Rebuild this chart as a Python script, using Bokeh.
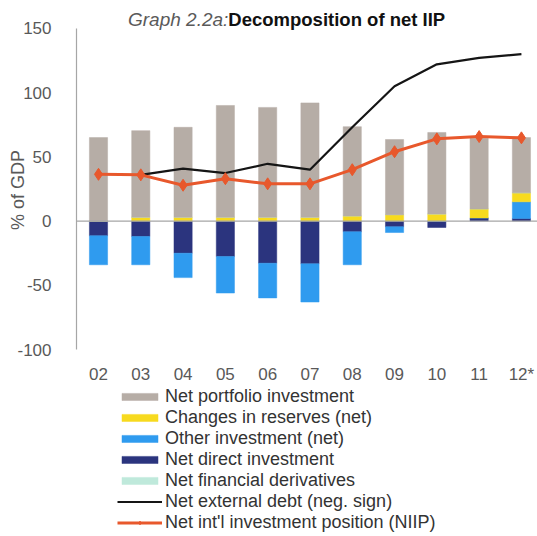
import numpy as np
from bokeh.plotting import figure
from bokeh.layouts import column
from bokeh.models import Range1d, FixedTicker, Label, Legend, LegendItem, Span
from bokeh.embed import file_html
from bokeh.resources import INLINE

years = ["02", "03", "04", "05", "06", "07", "08", "09", "10", "11", "12*"]
portfolio = [65, 67.4, 70, 87, 85.5, 89, 69.5, 58.5, 63.5, 55, 43]
reserves = [0, 3, 3, 3, 3, 3, 4, 5, 5.5, 7, 7]
other_inv = [-22.6, -22, -19, -28.4, -27, -29.7, -25.7, -4.5, 0, 0, 13]
direct_inv = [-11.4, -12, -25, -27.6, -32.8, -33.3, -8.3, -4.4, -5, 2.5, 2]
derivatives = [0, 0, 0, 0, 0, 0, 0, 0, 0, 0, 0]
ext_debt = [float("nan"), 36, 40.8, 37.4, 44.6, 40, 73, 105, 122, 127, 130]
niip = [36.4, 36, 27.9, 33, 29, 29, 40, 54, 64, 65.8, 64.8]
y_ticks = [-100, -50, 0, 50, 100, 150]

xs = list(range(1, len(years) + 1))

p = figure(width=537, height=386, output_backend="svg", toolbar_location=None,
           x_range=Range1d(0.48, 11.38), y_range=Range1d(-123.3, 171.7),
           min_border_left=76, min_border_right=0, min_border_top=0,
           min_border_bottom=6)
p.outline_line_color = None
p.xgrid.visible = False
p.ygrid.visible = False

series = [
    ("Net direct investment", direct_inv, "#2b347e"),
    ("Other investment (net)", other_inv, "#2f9bef"),
    ("Changes in reserves (net)", reserves, "#f7da1e"),
    ("Net financial derivatives", derivatives, "#bfe9db"),
    ("Net portfolio investment", portfolio, "#b6ada6"),
]
colors = {name: color for name, _, color in series}
values = {name: vals for name, vals, _ in series}
pos_base = np.zeros(len(xs))
neg_base = np.zeros(len(xs))
for name, vals, color in series:
    v = np.array(vals, dtype=float)
    bottom = np.where(v >= 0, pos_base, neg_base)
    top = bottom + v
    pos_base = np.where(v >= 0, top, pos_base)
    neg_base = np.where(v < 0, top, neg_base)
    p.vbar(x=xs, bottom=bottom, top=top, width=0.43, fill_color=color,
           line_color=color, line_width=0.5)

zero = Span(location=0, dimension="width", line_color="#a6a6a6", line_width=1.2)
p.add_layout(zero)

p.line(xs, ext_debt, line_color="#151515", line_width=2.2)
p.line(xs, niip, line_color="#e8582c", line_width=3)
p.scatter(xs, niip, marker="diamond", size=12, fill_color="#e8582c",
          line_color="#e8582c")

# axes
p.yaxis.ticker = FixedTicker(ticks=y_ticks)
p.yaxis.bounds = (y_ticks[0], y_ticks[-1])
p.yaxis.major_label_overrides = {t: str(t) for t in y_ticks}
p.yaxis.axis_line_color = "#a6a6a6"
p.yaxis.axis_line_width = 1.2
p.yaxis.major_tick_line_color = None
p.yaxis.minor_tick_line_color = None
p.yaxis.major_label_text_font = "Liberation Sans"
p.yaxis.major_label_text_font_size = "17px"
p.yaxis.major_label_text_color = "#595959"
p.yaxis.major_label_standoff = 19
p.yaxis.axis_label = "% of GDP"
p.yaxis.axis_label_text_font = "Liberation Sans"
p.yaxis.axis_label_text_font_size = "18px"
p.yaxis.axis_label_text_font_style = "normal"
p.yaxis.axis_label_text_color = "#595959"
p.yaxis.axis_label_standoff = -14

p.xaxis.ticker = FixedTicker(ticks=xs)
p.xaxis.major_label_overrides = {x: y for x, y in zip(xs, years)}
p.xaxis.axis_line_color = None
p.xaxis.major_tick_line_color = None
p.xaxis.minor_tick_line_color = None
p.xaxis.major_label_text_font = "Liberation Sans"
p.xaxis.major_label_text_font_size = "17px"
p.xaxis.major_label_text_color = "#595959"
p.xaxis.major_label_standoff = -21

p.add_layout(Label(x=4.07, y=157, text="Graph 2.2a:", text_align="right",
                   text_baseline="middle", text_font="Liberation Sans",
                   text_font_style="italic", text_font_size="19px",
                   text_color="#5a5a5a"))
p.add_layout(Label(x=4.07, y=157, text="Decomposition of net IIP", text_align="left",
                   text_baseline="middle", text_font="Liberation Sans",
                   text_font_style="bold", text_font_size="18.5px",
                   text_color="#111111"))

# legend figure (glyph renderers kept out of its visible range)
q = figure(width=537, height=150, output_backend="svg", toolbar_location=None,
           x_range=Range1d(-3, -2), y_range=Range1d(-300, -200),
           min_border_left=0, min_border_right=0, min_border_top=0,
           min_border_bottom=0)
q.outline_line_color = None
q.axis.visible = False
q.grid.visible = False

def legend_bar(name):
    return q.vbar(x=xs, top=values[name], width=0.43, fill_color=colors[name],
                  line_color=colors[name], line_width=0.5)

items = [
    LegendItem(label="Net portfolio investment", renderers=[legend_bar("Net portfolio investment")]),
    LegendItem(label="Changes in reserves (net)", renderers=[legend_bar("Changes in reserves (net)")]),
    LegendItem(label="Other investment (net)", renderers=[legend_bar("Other investment (net)")]),
    LegendItem(label="Net direct investment", renderers=[legend_bar("Net direct investment")]),
    LegendItem(label="Net financial derivatives", renderers=[legend_bar("Net financial derivatives")]),
    LegendItem(label="Net external debt (neg. sign)",
               renderers=[q.line(xs, ext_debt, line_color="#151515", line_width=2.2)]),
    LegendItem(label="Net int'l investment position (NIIP)",
               renderers=[q.line(xs, niip, line_color="#e8582c", line_width=3),
                          q.scatter(xs, niip, marker="diamond", size=10,
                                    fill_color="#e8582c", line_color="#e8582c")]),
]
legend = Legend(items=items, location=(41, 3), orientation="vertical",
                label_text_font="Liberation Sans", label_text_font_size="18px",
                label_text_color="#333333", glyph_width=45, glyph_height=9,
                label_height=21, label_standoff=3, spacing=0, padding=0, margin=0,
                border_line_color=None, background_fill_alpha=0)
q.add_layout(legend)

layout = column(p, q, spacing=0)
open("out.html", "w").write(file_html(layout, INLINE))
